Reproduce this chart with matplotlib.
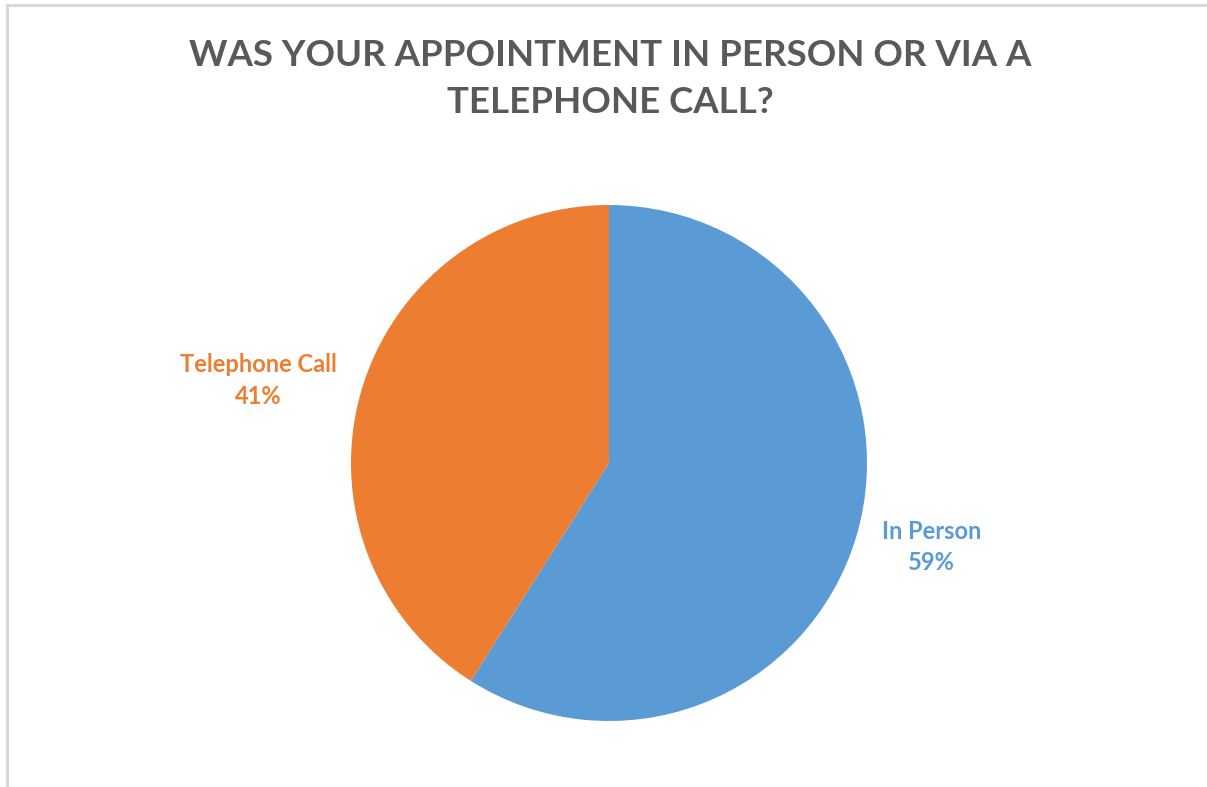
import matplotlib
matplotlib.use('Agg')
import matplotlib.pyplot as plt
from matplotlib.lines import Line2D

categories = ['In Person', 'Telephone Call']
shares = [59, 41]
colors = ['#5B9BD5', '#ED7D31']

W, H = 1207, 787
fig = plt.figure(figsize=(W / 100, H / 100), dpi=100)
fig.patch.set_facecolor('white')

# light grey chart frame along the top and left edges
fig.add_artist(Line2D([7 / W, 7 / W], [0, 1 - 5 / H], color='#D9D9D9', lw=2.2))
fig.add_artist(Line2D([7 / W, 1], [1 - 5 / H, 1 - 5 / H], color='#D9D9D9', lw=2.2))

fig.text(610 / W, 1 - 79 / H, 'WAS YOUR APPOINTMENT IN PERSON OR VIA A\nTELEPHONE CALL?',
         ha='center', va='center', fontsize=26.4, fontweight='bold', color='#595959',
         family='Lato', linespacing=1.55)

# pie area: centre (609, 463) px, radius 258 px
cx, cy, r = 609, 463, 258
ax = fig.add_axes([(cx - r) / W, (H - cy - r) / H, 2 * r / W, 2 * r / H])
wedges, _ = ax.pie(shares, colors=colors, startangle=90, counterclock=False,
                   wedgeprops=dict(linewidth=0))
ax.set_xlim(-1, 1)
ax.set_ylim(-1, 1)
ax.set_aspect('equal')
ax.axis('off')

# data labels placed beside each slice
label_pos = {'In Person': (1.25, -0.325), 'Telephone Call': (-1.36, 0.32)}
for name, val, col in zip(categories, shares, colors):
    x, y = label_pos[name]
    ax.text(x, y, f'{name}\n{val}%', ha='center', va='center', fontsize=17,
            fontweight='bold', color=col, family='Lato', linespacing=1.45,
            clip_on=False)

fig.savefig('out.png', dpi=100)
